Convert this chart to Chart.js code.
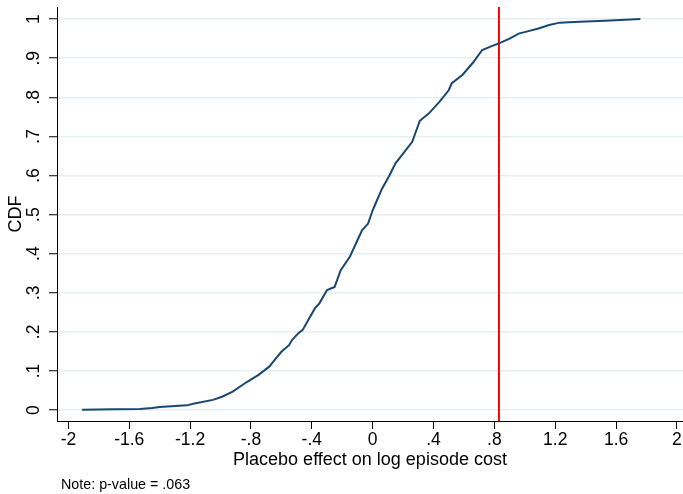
<!DOCTYPE html>
<html>
<head>
<meta charset="utf-8">
<title>Placebo CDF</title>
<script src="https://cdn.jsdelivr.net/npm/chart.js@4/dist/chart.umd.min.js"></script>
<style>
    html, body { margin: 0; padding: 0; background: #fff; }
    #wrap { width: 683px; height: 494px; }
</style>
</head>
<body>
<div id="wrap"><canvas id="cdfChart" width="683" height="494"></canvas></div>
<script>
// DATA
const effectX = [-1.91, -1.70, -1.53, -1.45, -1.40, -1.22, -1.18, -1.05, -0.99, -0.92,
    -0.83, -0.75, -0.68, -0.64, -0.60, -0.55, -0.53, -0.49, -0.46, -0.38,
    -0.35, -0.30, -0.25, -0.21, -0.15, -0.11, -0.07, -0.03, 0.00, 0.02,
    0.06, 0.11, 0.15, 0.20, 0.26, 0.31, 0.37, 0.44, 0.50, 0.52,
    0.59, 0.66, 0.72, 0.77, 0.83, 0.90, 0.96, 1.03, 1.09, 1.16,
    1.23, 1.29, 1.36, 1.53, 1.76];
const cdfY = [0.001, 0.002, 0.003, 0.005, 0.008, 0.012, 0.016, 0.026, 0.034, 0.047,
    0.071, 0.090, 0.111, 0.130, 0.149, 0.166, 0.179, 0.196, 0.205, 0.260,
    0.273, 0.307, 0.315, 0.358, 0.392, 0.426, 0.460, 0.477, 0.511, 0.529,
    0.565, 0.600, 0.631, 0.656, 0.686, 0.740, 0.759, 0.789, 0.818, 0.836,
    0.857, 0.889, 0.921, 0.929, 0.938, 0.950, 0.963, 0.970, 0.976, 0.985,
    0.991, 0.992, 0.993, 0.996, 1.000];
const actualEffect = 0.83;

const xTicks = [-2, -1.6, -1.2, -0.8, -0.4, 0, 0.4, 0.8, 1.2, 1.6, 2];
const xTickLabels = ["-2", "-1.6", "-1.2", "-.8", "-.4", "0", ".4", ".8", "1.2", "1.6", "2"];
const yTicks = [0, 0.1, 0.2, 0.3, 0.4, 0.5, 0.6, 0.7, 0.8, 0.9, 1];
const yTickLabels = ["0", ".1", ".2", ".3", ".4", ".5", ".6", ".7", ".8", ".9", "1"];

const FONT = "'Liberation Sans', Arial, Helvetica, sans-serif";
const X_MIN = -2.075, X_MAX = 2.04;
const Y_MIN = -0.028, Y_MAX = 1.031;

// Y TICK LABELS (rotated, Stata style) + NOTE
const stataText = {
    id: "stataText",
    afterDraw(chart) {
        const ctx = chart.ctx;
        const yScale = chart.scales.y;
        ctx.save();
        ctx.fillStyle = "#000";
        ctx.font = "17.5px " + FONT;
        ctx.textAlign = "center";
        ctx.textBaseline = "middle";
        yTicks.forEach((v, i) => {
            const py = yScale.getPixelForValue(v);
            ctx.save();
            ctx.translate(34.5, py);
            ctx.rotate(-Math.PI / 2);
            ctx.fillText(yTickLabels[i], 0, 0);
            ctx.restore();
        });
        ctx.font = "14.3px " + FONT;
        ctx.textAlign = "left";
        ctx.fillText("Note: p-value = .063", 61, 485);
        ctx.restore();
    }
};

const ctx = document.getElementById("cdfChart").getContext("2d");
new Chart(ctx, {
    type: "scatter",
    data: {
        datasets: [{
            label: "CDF",
            data: effectX.map((x, i) => ({ x: x, y: cdfY[i] })),
            showLine: true,
            borderColor: "#1a476f",
            borderWidth: 2,
            pointRadius: 0,
            tension: 0
        }, {
            label: "Actual",
            data: [{ x: actualEffect, y: Y_MIN }, { x: actualEffect, y: Y_MAX }],
            showLine: true,
            borderColor: "#ff0000",
            borderWidth: 2,
            pointRadius: 0
        }]
    },
    options: {
        responsive: false,
        animation: false,
        layout: { padding: { top: 7, left: 0, right: 0, bottom: 0 } },
        plugins: {
            legend: { display: false },
            tooltip: { enabled: false }
        },
        scales: {
            x: {
                type: "linear",
                min: X_MIN,
                max: X_MAX,
                afterBuildTicks: (scale) => { scale.ticks = xTicks.map(v => ({ value: v })); },
                afterFit: (scale) => { scale.height = 73; },
                ticks: {
                    autoSkip: false,
                    maxRotation: 0,
                    padding: 0.5,
                    color: "#000",
                    font: { family: FONT, size: 17.5 },
                    callback: (value, index) => xTickLabels[index]
                },
                grid: {
                    drawOnChartArea: false,
                    drawTicks: true,
                    tickLength: 8,
                    tickColor: "#000"
                },
                border: { display: true, color: "#000", width: 1 },
                title: {
                    display: true,
                    text: "Placebo effect on log episode cost",
                    color: "#000",
                    font: { family: FONT, size: 18 },
                    padding: { top: 0, bottom: 23 }
                }
            },
            y: {
                type: "linear",
                min: Y_MIN,
                max: Y_MAX,
                afterBuildTicks: (scale) => { scale.ticks = yTicks.map(v => ({ value: v })); },
                afterFit: (scale) => { scale.width = 57; },
                ticks: { display: false },
                grid: {
                    drawOnChartArea: true,
                    drawTicks: true,
                    tickLength: 8,
                    color: "#e8eff2",
                    lineWidth: 1.5,
                    tickColor: "#000",
                    tickWidth: 1
                },
                border: { display: true, color: "#000", width: 1 },
                title: {
                    display: true,
                    text: "CDF",
                    color: "#000",
                    font: { family: FONT, size: 18 },
                    padding: { top: 5, bottom: 0 }
                }
            }
        }
    },
    plugins: [stataText]
});
</script>
</body>
</html>
